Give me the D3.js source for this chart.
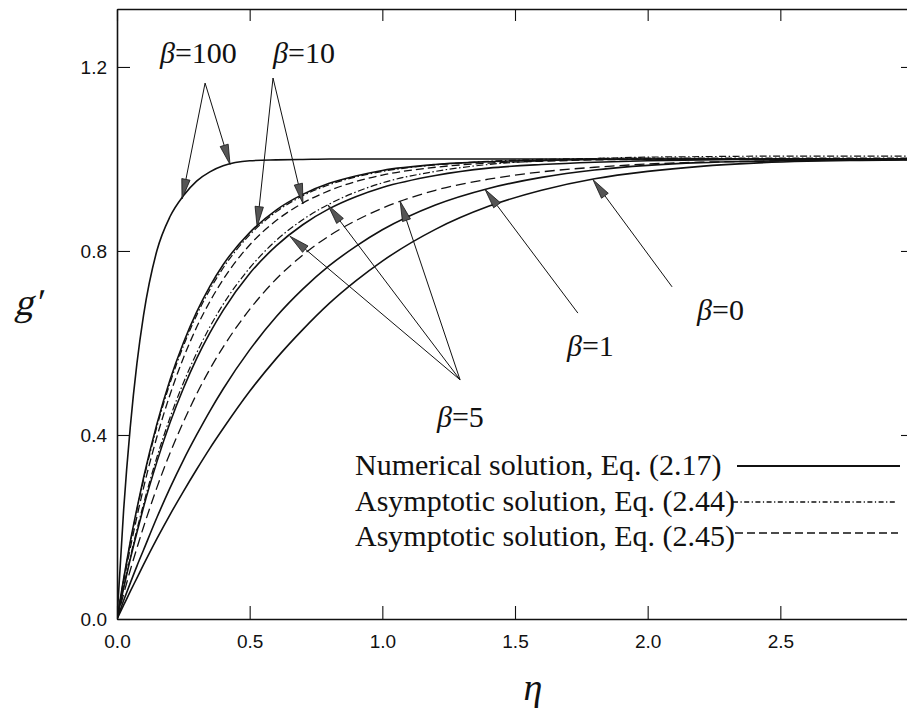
<!DOCTYPE html>
<html><head><meta charset="utf-8">
<script src="https://cdn.jsdelivr.net/npm/d3@7"></script>
<style>
html,body{margin:0;padding:0;background:#fff;}
svg{display:block;}
</style></head>
<body>
<svg id="chart" width="907" height="713"></svg>
<script>
// ---------- data ----------
const eta = [0, 0.025, 0.05, 0.075, 0.1, 0.15, 0.2, 0.25, 0.3, 0.35, 0.4, 0.5, 0.6, 0.7, 0.8, 0.9, 1.0, 1.2, 1.4, 1.6, 1.8, 2.0, 2.2, 2.4, 2.6, 2.8, 3.0];

// numerical solution, Eq. (2.17)
const gBeta0   = [0, 0.030, 0.060, 0.089, 0.118, 0.174, 0.227, 0.277, 0.325, 0.371, 0.414, 0.495, 0.566, 0.629, 0.686, 0.735, 0.778, 0.847, 0.897, 0.932, 0.957, 0.973, 0.984, 0.991, 0.995, 0.997, 0.998];
const gBeta1   = [0, 0.040, 0.078, 0.115, 0.150, 0.220, 0.285, 0.345, 0.400, 0.452, 0.500, 0.585, 0.657, 0.717, 0.768, 0.810, 0.846, 0.900, 0.936, 0.960, 0.976, 0.986, 0.992, 0.995, 0.997, 0.998, 0.999];
const gBeta5   = [0, 0.067, 0.130, 0.188, 0.243, 0.341, 0.427, 0.501, 0.566, 0.622, 0.671, 0.751, 0.811, 0.857, 0.892, 0.918, 0.938, 0.964, 0.980, 0.988, 0.993, 0.996, 0.998, 0.999, 1.000, 1.000, 1.000];
const gBeta10  = [0, 0.088, 0.168, 0.240, 0.307, 0.423, 0.520, 0.600, 0.667, 0.723, 0.770, 0.840, 0.889, 0.923, 0.947, 0.963, 0.975, 0.988, 0.994, 0.997, 0.999, 1.000, 1.000, 1.000, 1.000, 1.000, 1.000];
const gBeta100 = [0, 0.237, 0.417, 0.555, 0.660, 0.800, 0.875, 0.920, 0.952, 0.972, 0.985, 0.996, 0.998, 0.999, 1.000, 1.000, 1.000, 1.000, 1.000, 1.000, 1.000, 1.000, 1.000, 1.000, 1.000, 1.000, 1.000];

// asymptotic solution, Eq. (2.44)  (dash-dot)
const gBeta5Eq244  = [0, 0.070, 0.134, 0.194, 0.250, 0.351, 0.438, 0.513, 0.578, 0.635, 0.684, 0.763, 0.823, 0.868, 0.902, 0.928, 0.948, 0.973, 0.988, 0.996, 1.001, 1.004, 1.005, 1.006, 1.006, 1.006, 1.006];
const gBeta10Eq244 = [0, 0.086, 0.165, 0.237, 0.302, 0.417, 0.513, 0.593, 0.660, 0.716, 0.763, 0.835, 0.885, 0.920, 0.944, 0.961, 0.973, 0.987, 0.995, 0.999, 1.001, 1.002, 1.002, 1.002, 1.002, 1.002, 1.002];

// asymptotic solution, Eq. (2.45)  (dashed)
const gBeta5Eq245  = [0, 0.054, 0.106, 0.154, 0.200, 0.285, 0.361, 0.428, 0.489, 0.543, 0.591, 0.673, 0.739, 0.791, 0.833, 0.866, 0.893, 0.932, 0.956, 0.972, 0.982, 0.989, 0.993, 0.995, 0.997, 0.998, 0.999];
const gBeta10Eq245 = [0, 0.080, 0.154, 0.222, 0.285, 0.395, 0.488, 0.567, 0.634, 0.690, 0.738, 0.813, 0.866, 0.904, 0.931, 0.951, 0.965, 0.982, 0.991, 0.995, 0.998, 0.999, 1.000, 1.000, 1.000, 1.000, 1.000];

const xTicks = [0.0, 0.5, 1.0, 1.5, 2.0, 2.5];
const yTicks = [0.0, 0.4, 0.8, 1.2];

const legendLabels = ["Numerical solution, Eq. (2.17)", "Asymptotic solution, Eq. (2.44)", "Asymptotic solution, Eq. (2.45)"];

// annotation labels: beta value, label anchor (eta, g'), arrow origin, arrow tips
const annBeta   = ["100", "10", "5", "1", "0"];
const annText   = [[0.162, 1.209], [0.588, 1.209], [1.206, 0.418], [1.696, 0.571], [2.186, 0.650]];
const annFrom   = [[0.332, 1.165], [0.588, 1.176], [1.293, 0.520], [1.737, 0.665], [2.092, 0.722]];
const annTips   = [
  [[0.245, 0.913], [0.426, 0.988]],
  [[0.528, 0.853], [0.701, 0.903]],
  [[0.652, 0.832], [0.795, 0.900], [1.067, 0.908]],
  [[1.387, 0.934]],
  [[1.794, 0.955]]
];

// ---------- drawing ----------
const svg = d3.select("#chart");
const x = d3.scaleLinear().domain([0, 3]).range([117, 913]);
const y = d3.scaleLinear().domain([0, 1.326]).range([619, 9]);

const series = [
  {v: gBeta0,   style: "solid"},
  {v: gBeta1,   style: "solid"},
  {v: gBeta5,   style: "solid"},
  {v: gBeta10,  style: "solid"},
  {v: gBeta100, style: "solid"},
  {v: gBeta5Eq244,  style: "dashdot"},
  {v: gBeta10Eq244, style: "dashdot"},
  {v: gBeta5Eq245,  style: "dashed5"},
  {v: gBeta10Eq245, style: "dashed10"}
];
const dashes = {solid: null, dashdot: "7,2.5,1.5,2.5", dashed5: "10,5", dashed10: "8,4"};
const widths = {solid: 1.6, dashdot: 1.2, dashed5: 1.3, dashed10: 1.3};

const line = d3.line().x((d, i) => x(eta[i])).y(d => y(d)).curve(d3.curveMonotoneX);

svg.append("clipPath").attr("id", "clip")
  .append("rect").attr("x", 117).attr("y", 9).attr("width", 796).attr("height", 610);

svg.append("g").attr("clip-path", "url(#clip)")
  .selectAll("path").data(series).join("path")
  .attr("d", d => line(d.v))
  .attr("fill", "none")
  .attr("stroke", "#111")
  .attr("stroke-width", d => widths[d.style])
  .attr("stroke-dasharray", d => dashes[d.style]);

// axes
const tickFont = "'Liberation Sans', Arial, sans-serif";
const fmt = d3.format(".1f");
const gx = svg.append("g").attr("transform", `translate(0,${y(0)})`)
  .call(d3.axisBottom(x).tickValues(xTicks).tickFormat(fmt).tickSizeInner(-13).tickSizeOuter(0).tickPadding(16));
const gy = svg.append("g").attr("transform", `translate(${x(0)},0)`)
  .call(d3.axisLeft(y).tickValues(yTicks).tickFormat(fmt).tickSizeInner(-13).tickSizeOuter(0).tickPadding(10));
const gt = svg.append("g").attr("transform", `translate(0,${y(1.326)})`)
  .call(d3.axisTop(x).tickValues(xTicks).tickFormat("").tickSizeInner(-12).tickSizeOuter(0));
const gr = svg.append("g").attr("transform", `translate(${x(3)},0)`)
  .call(d3.axisRight(y).tickValues(yTicks).tickFormat("").tickSizeInner(-12).tickSizeOuter(0));
[gx, gy, gt, gr].forEach(g => {
  g.selectAll(".domain").attr("stroke", "#111").attr("stroke-width", 1.6);
  g.selectAll(".tick line").attr("stroke", "#111").attr("stroke-width", 1.1);
  g.selectAll("text").attr("font-family", tickFont).attr("font-size", 19).attr("fill", "#111");
});

// axis titles
const serif = "'Liberation Serif', 'Times New Roman', serif";
svg.append("text").attr("x", 533).attr("y", 700).attr("text-anchor", "middle")
  .attr("font-family", serif).attr("font-style", "italic")
  .attr("font-size", 38).attr("fill", "#111").text("η");
svg.append("text").attr("transform", "translate(14,315) skewX(-14)")
  .attr("font-family", serif)
  .attr("font-size", 38).attr("fill", "#111").text("g'");

// annotations
const annG = svg.append("g");
annBeta.forEach((b, k) => {
  const [fx, fy] = [x(annFrom[k][0]), y(annFrom[k][1])];
  annTips[k].forEach(t => {
    const tx = x(t[0]), ty = y(t[1]);
    const dx = tx - fx, dy = ty - fy, len = Math.hypot(dx, dy);
    const ux = dx / len, uy = dy / len;
    const L = 20, w = 4.2;
    const bx = tx - ux * L, by = ty - uy * L;
    annG.append("line").attr("x1", fx).attr("y1", fy).attr("x2", bx).attr("y2", by)
      .attr("stroke", "#111").attr("stroke-width", 1);
    annG.append("polygon")
      .attr("points", [[tx, ty], [bx - uy * w, by + ux * w], [bx + uy * w, by - ux * w]].map(p => p.join(",")).join(" "))
      .attr("fill", "#555").attr("stroke", "#111").attr("stroke-width", 0.8);
  });
  const t = annG.append("text").attr("x", x(annText[k][0])).attr("y", y(annText[k][1]))
    .attr("font-family", serif).attr("font-size", 30).attr("fill", "#111");
  t.append("tspan").attr("font-style", "italic").text("β");
  t.append("tspan").text("=" + b);
});

// legend
const legG = svg.append("g");
const legStyles = ["solid", "dashdot", "dashed10"];
const legDash = {solid: null, dashdot: "5,2.5,1.2,2.5", dashed10: "8,4"};
const legBase = [475, 510.5, 546];
const legLineY = [466, 502, 533];
const legLineX = [[737, 900], [733, 897], [735, 898]];
legendLabels.forEach((lab, i) => {
  legG.append("text").attr("x", 355).attr("y", legBase[i])
    .attr("font-family", serif).attr("font-size", 30).attr("fill", "#111").text(lab);
  legG.append("line").attr("x1", legLineX[i][0]).attr("x2", legLineX[i][1])
    .attr("y1", legLineY[i]).attr("y2", legLineY[i])
    .attr("stroke", "#111").attr("stroke-width", i === 0 ? 2 : 1.3)
    .attr("stroke-dasharray", legDash[legStyles[i]]);
});
</script>
</body></html>
